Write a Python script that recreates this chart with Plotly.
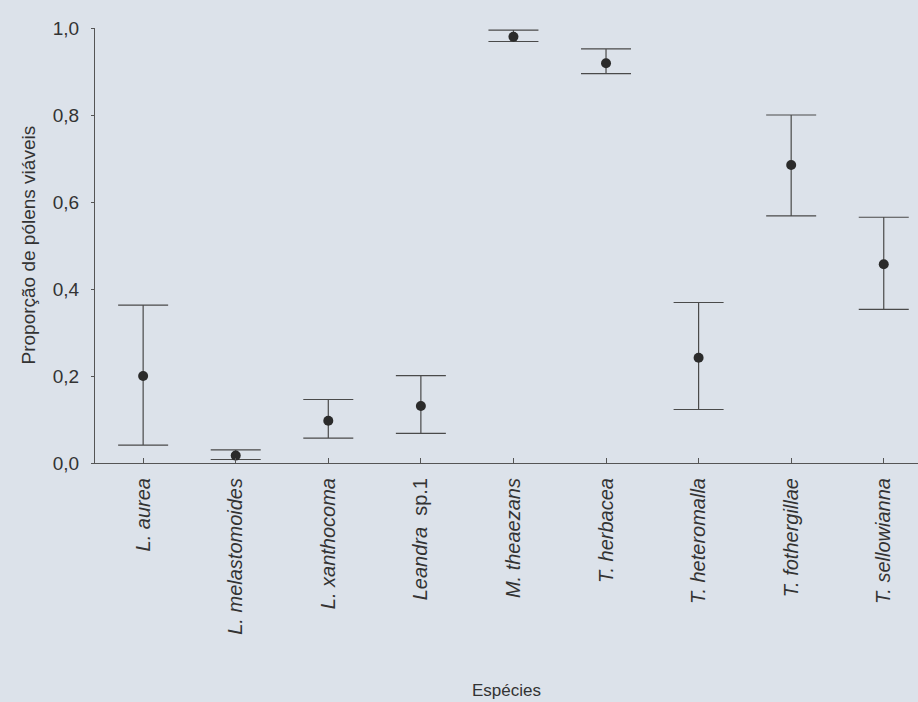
import plotly.graph_objects as go

species = ["<i>L. aurea</i>", "<i>L. melastomoides</i>", "<i>L. xanthocoma</i>",
           "<i>Leandra</i>  sp.1", "<i>M. theaezans</i>", "<i>T. herbacea</i>",
           "<i>T. heteromalla</i>", "<i>T. fothergillae</i>", "<i>T. sellowianna</i>"]
mean = [0.200, 0.017, 0.097, 0.131, 0.980, 0.919, 0.242, 0.685, 0.457]
upper = [0.363, 0.030, 0.146, 0.201, 0.995, 0.952, 0.369, 0.800, 0.565]
lower = [0.041, 0.008, 0.057, 0.068, 0.969, 0.895, 0.123, 0.568, 0.353]
yticks = [0.0, 0.2, 0.4, 0.6, 0.8, 1.0]

xpos = list(range(len(species)))
err_plus = [u - m for u, m in zip(upper, mean)]
err_minus = [m - l for m, l in zip(mean, lower)]

FONT = "Liberation Sans, Arial, sans-serif"
INK = "#333333"

fig = go.Figure()
fig.add_trace(go.Scatter(
    x=xpos, y=mean, mode="markers",
    marker=dict(size=10, color="#2b2b2b"),
    error_y=dict(type="data", symmetric=False, array=err_plus, arrayminus=err_minus,
                 color="#4a4a4a", thickness=1.2, width=25),
    cliponaxis=False, showlegend=False,
))

fig.update_layout(
    width=918, height=702,
    margin=dict(l=95, r=0, t=28, b=239),
    paper_bgcolor="#dce2ea", plot_bgcolor="#dce2ea",
    separators=",.",
    font=dict(family=FONT, color=INK, size=19),
    xaxis=dict(
        range=[-0.52, 8.37], tickmode="array", tickvals=xpos, ticktext=species,
        tickangle=-90, showgrid=False, zeroline=False,
        showline=True, linecolor="#555555", linewidth=1,
        ticks="inside", ticklen=5, tickcolor="#555555",
        ticklabelstandoff=6,
        tickfont=dict(family=FONT, size=20, color=INK),
    ),
    yaxis=dict(
        range=[0, 1.0], tickmode="array", tickvals=yticks, tickformat=".1f",
        showgrid=False, zeroline=False,
        showline=True, linecolor="#555555", linewidth=1,
        ticks="outside", ticklen=3, tickcolor="#555555",
        ticklabelstandoff=8,
        tickfont=dict(family=FONT, size=19, color=INK),
    ),
    annotations=[
        dict(text="Espécies", xref="paper", yref="paper", x=0.5, y=-0.524,
             xanchor="center", yanchor="middle", showarrow=False,
             font=dict(family=FONT, size=17, color=INK)),
        dict(text="Proporção de pólens viáveis", xref="paper", yref="paper",
             x=-0.0814, y=0.5, textangle=-90, xanchor="center", yanchor="middle",
             showarrow=False, font=dict(family=FONT, size=19, color=INK)),
    ],
)

fig.write_html("out.html")
